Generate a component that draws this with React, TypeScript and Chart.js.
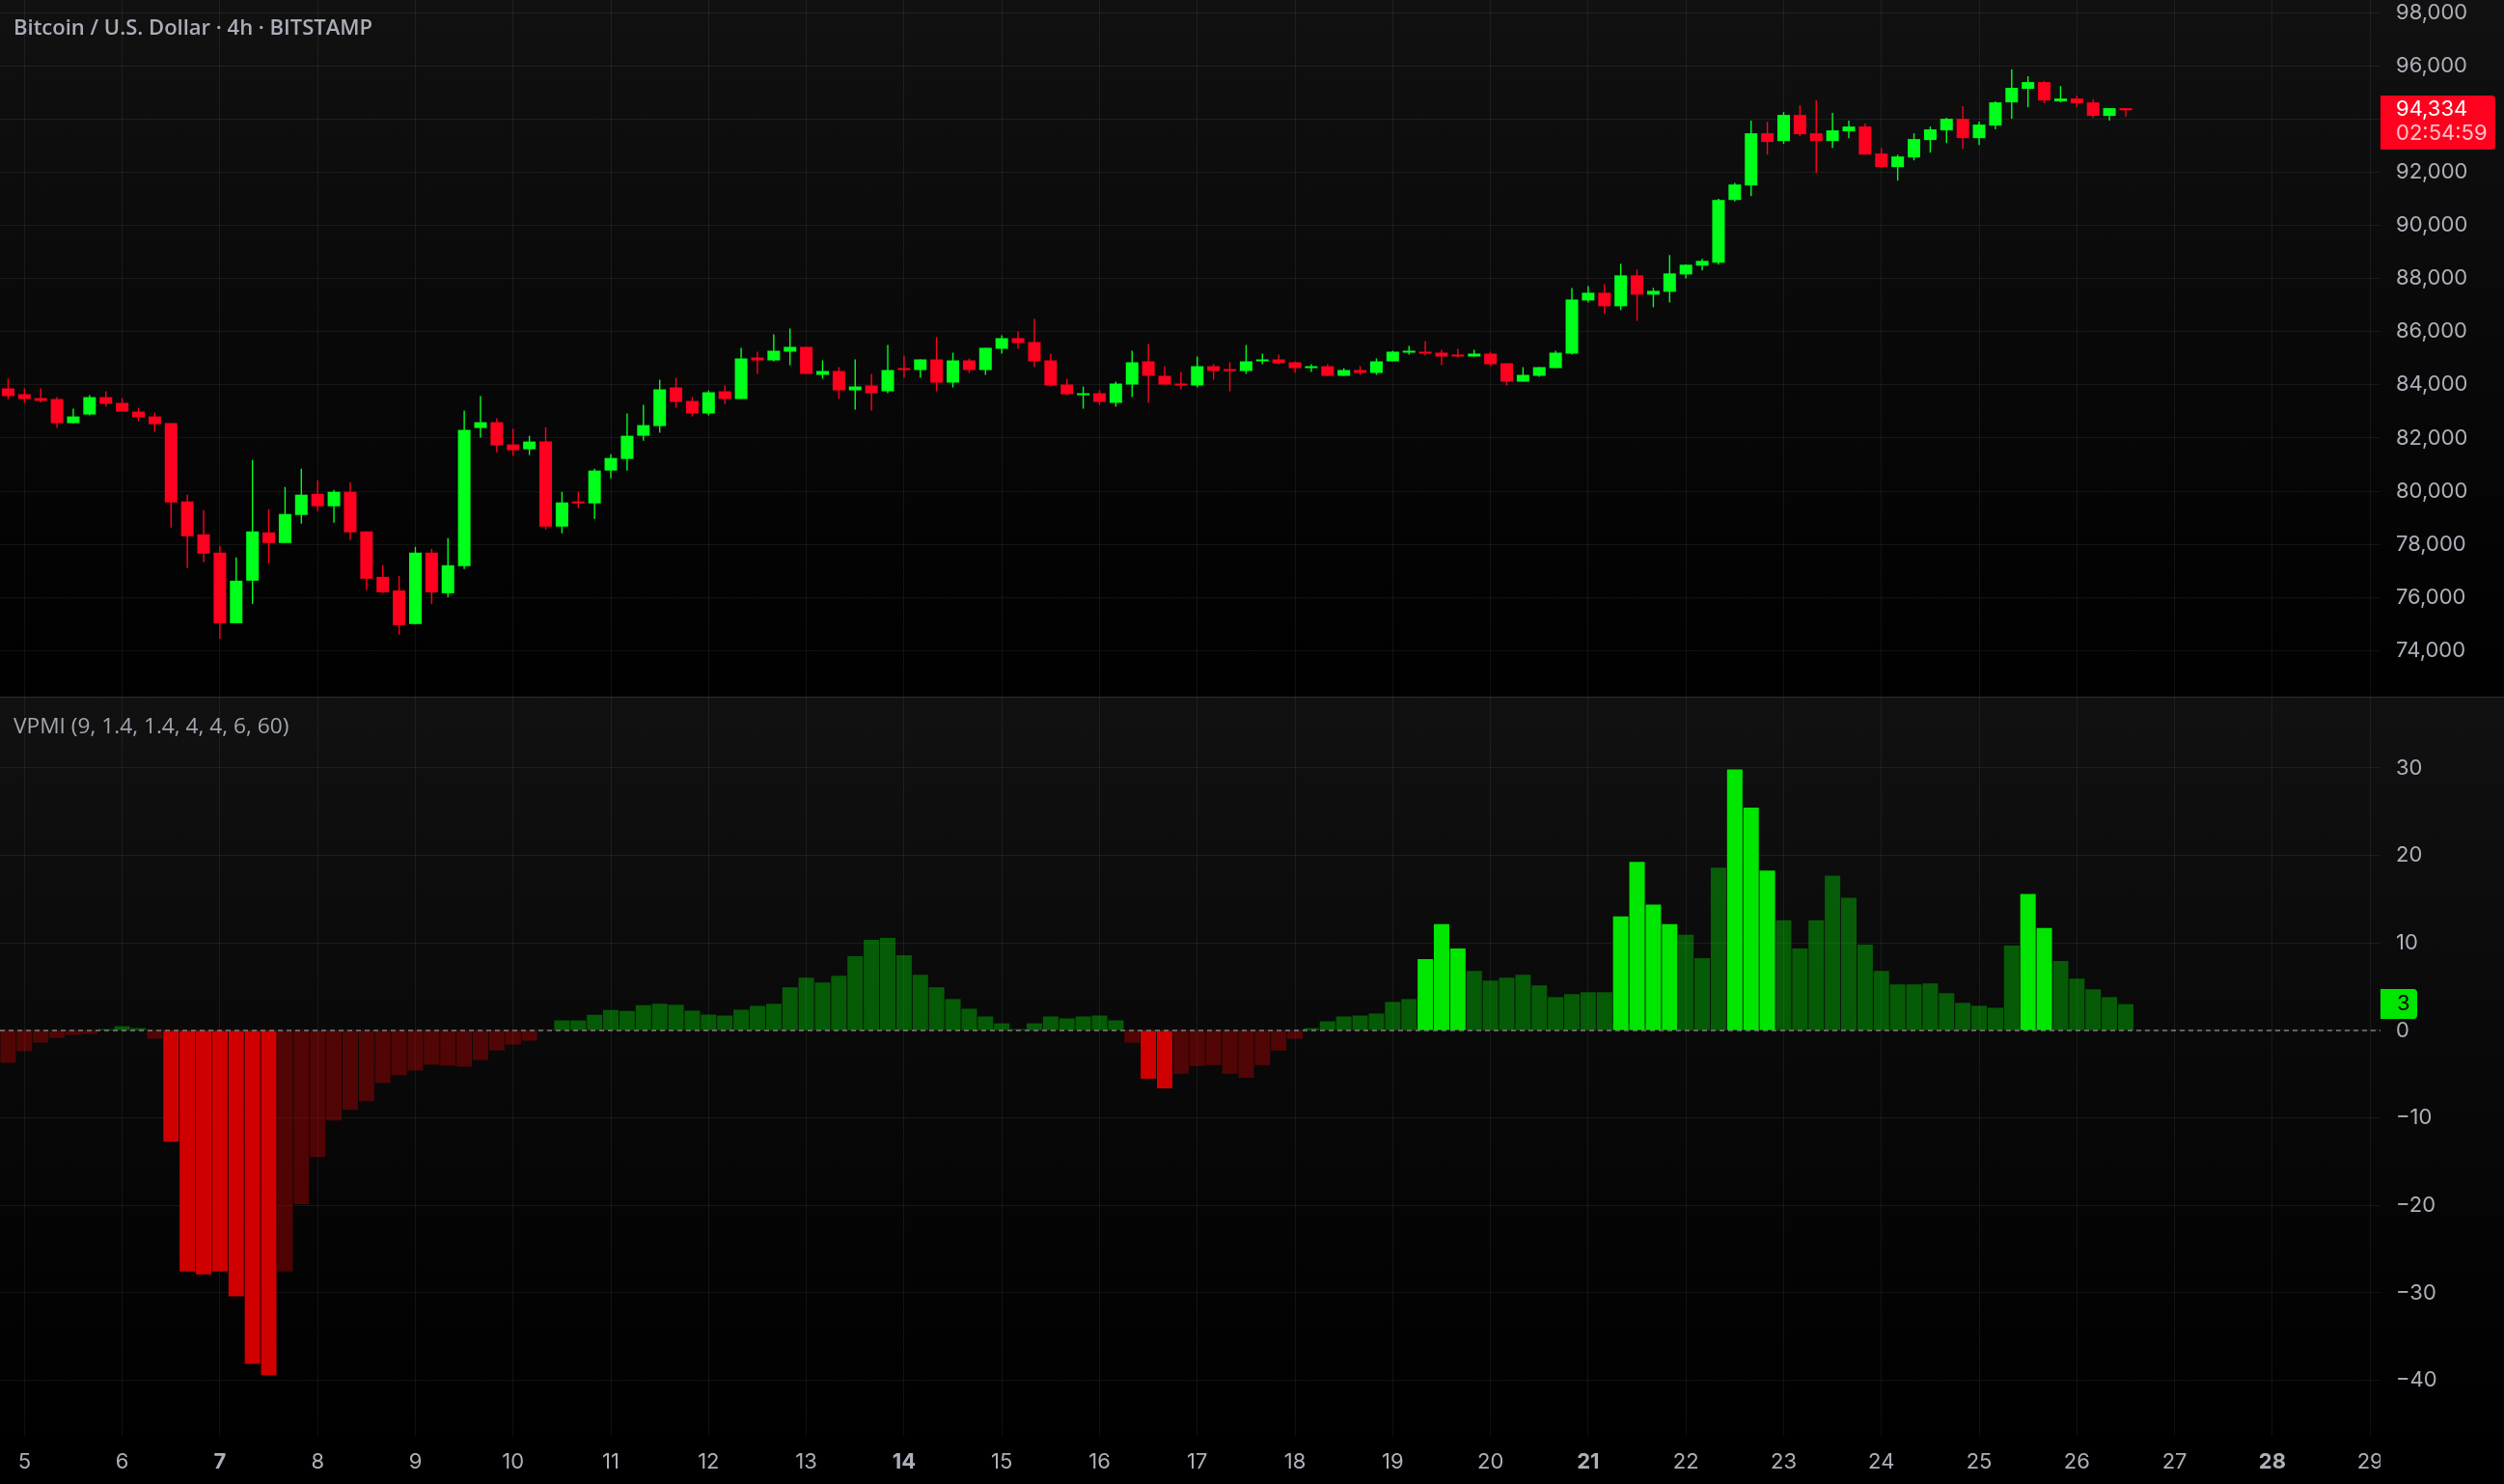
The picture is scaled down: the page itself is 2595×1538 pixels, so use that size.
import React, { useEffect, useRef } from "react";
import Chart from "chart.js/auto";

const opens = [83867,83649,83503,83467,82558,82885,83539,83321,82994,82812,82558,79613,78376,77686,75031,76631,78449,78049,79104,79903,79431,79976,78485,76776,76267,74995,77686,76158,77176,82376,82594,81758,81576,81867,78667,79576,79540,80776,81212,82085,82449,83903,83394,82922,83758,83467,85030,84921,85249,85430,84376,84521,83794,83976,83758,84594,84558,84958,84085,84921,84558,85358,85758,85612,84921,84012,83612,83685,83322,84012,84885,84340,84049,83976,84703,84558,84521,84885,84958,84849,84630,84703,84340,84558,84449,84885,85212,85249,85212,85103,85067,85176,84812,84121,84340,84630,85176,87176,87467,86958,88121,87394,87503,88157,88485,88594,90958,91504,93467,93176,94158,93467,93176,93540,93722,92704,92195,92558,93213,93576,94013,93285,93758,94631,95140,95394,94667,94776,94631,94122,94413];
const highs = [84230,83867,83867,83539,83103,83612,83758,83503,83139,82958,82558,79867,79285,77940,77504,81176,79322,80158,80849,80412,80049,80340,78485,77213,76813,77904,77831,78231,83030,83576,82739,82340,82085,82412,79976,79976,80849,81394,82921,83249,84194,84267,83540,83794,83976,85394,85249,85903,86121,85430,84921,84667,84958,84412,85503,85103,84958,85794,85212,84994,85394,85867,86012,86485,85176,84231,83940,83794,84121,85285,85539,84703,84485,85067,84776,84849,85503,85176,85140,84885,84776,84776,84630,84703,84994,85285,85467,85649,85321,85358,85321,85249,84812,84667,84667,85285,87648,87721,87794,88557,88339,87648,88885,88521,88739,91000,91600,93940,93904,94267,94522,94703,94231,93940,93831,92922,92667,93467,93722,94049,94485,93904,94667,95867,95613,95431,95249,94885,94740,94413,94413];
const lows = [83467,83321,83346,82376,82558,82849,83176,82994,82630,82230,78631,77104,77322,74449,75031,75758,77285,78049,78776,79249,78813,78158,76267,76158,74595,74995,75758,76013,77067,82012,81467,81322,81358,78558,78413,79358,78958,80485,80776,81900,82200,83140,82813,82849,83285,83467,84412,84885,84740,84412,84231,83467,83067,83031,83685,84267,84267,83758,83903,84449,84376,85176,85358,84667,83940,83612,83103,83249,83176,83540,83322,84012,83831,83903,84194,83758,84412,84776,84776,84449,84485,84340,84340,84376,84376,84885,85140,85103,84740,85030,85067,84703,83976,84121,84303,84630,85140,87103,86667,86812,86412,86921,87103,88012,88303,88521,90900,91104,92667,93067,93358,91977,92922,93285,92667,92158,91686,92449,92740,93104,92886,93031,93613,94013,94449,94594,94631,94449,94049,93940,94085];
const closes = [83576,83467,83394,82558,82812,83539,83285,82994,82776,82521,79576,78304,77649,75031,76631,78485,78049,79140,79867,79431,79976,78449,76704,76195,74959,77686,76195,77213,82303,82594,81721,81540,81867,78667,79576,79540,80776,81249,82085,82485,83831,83358,82922,83722,83467,84994,84921,85285,85430,84412,84521,83794,83940,83685,84558,84558,84958,84085,84921,84558,85394,85758,85576,84885,83976,83649,83685,83358,84049,84849,84340,84012,83976,84703,84521,84521,84885,84958,84812,84630,84667,84340,84558,84449,84885,85249,85249,85176,85067,85067,85176,84776,84121,84376,84667,85212,87212,87467,86958,88121,87394,87539,88194,88521,88666,90959,91540,93467,93140,94158,93431,93176,93576,93722,92667,92195,92595,93249,93613,94013,93285,93794,94631,95176,95394,94704,94776,94594,94122,94413,94334];

const vpmiValues = [-3.7,-2.38,-1.39,-0.84,-0.51,-0.4,0.15,0.48,0.26,-0.95,-12.71,-27.55,-27.88,-27.55,-30.4,-38.1,-39.4,-27.55,-19.85,-14.47,-10.3,-9.08,-8.1,-6,-5.13,-4.58,-3.92,-4.03,-4.14,-3.37,-2.27,-1.61,-1.17,0.05,1.14,1.14,1.79,2.34,2.23,2.89,3.05,2.93,2.26,1.81,1.7,2.37,2.81,3.04,4.93,6.04,5.48,6.26,8.48,10.37,10.59,8.59,6.37,4.93,3.59,2.48,1.59,0.81,0.15,0.81,1.59,1.37,1.59,1.7,1.15,-1.41,-5.52,-6.63,-4.96,-4.07,-3.96,-4.96,-5.41,-3.96,-2.3,-0.96,0.26,1.04,1.59,1.7,1.93,3.26,3.59,8.15,12.15,9.37,6.81,5.7,6.04,6.37,5.15,3.81,4.15,4.37,4.37,13.04,19.26,14.37,12.15,10.93,8.26,18.59,29.81,25.48,18.26,12.59,9.37,12.59,17.7,15.15,9.81,6.81,5.26,5.26,5.37,4.26,3.15,2.81,2.59,9.7,15.59,11.7,7.93,5.93,4.7,3.81,3];
const vpmiStrongBars = [10,11,12,13,14,15,16,70,71,87,88,89,99,100,101,102,106,107,108,124,125];

const dayLabels = [5,6,7,8,9,10,11,12,13,14,15,16,17,18,19,20,21,22,23,24,25,26,27,28,29];
const boldDays = [7,14,21,28];
const priceTicks = [74000,76000,78000,80000,82000,84000,86000,88000,90000,92000,94000,96000,98000];
const vpmiTicks = [-40,-30,-20,-10,0,10,20,30];

const titleText = "Bitcoin / U.S. Dollar · 4h · BITSTAMP";
const indicatorText = "VPMI (9, 1.4, 1.4, 4, 4, 6, 60)";
const lastPriceLabel = "94,334";
const countdownLabel = "02:54:59";
const lastVpmiLabel = "3";

const GREEN = "#00ff1a";
const RED = "#ff001e";
const V_GREEN = "#00e600";
const V_RED = "#d00000";
const V_GREEN_DIM = "rgba(0,230,0,0.37)";
const V_RED_DIM = "rgba(209,0,0,0.37)";
const GRID = "rgba(255,255,255,0.065)";
const TEXT = "#adb0b9";
const FONT = "Inter";
const X_MIN = -0.5;
const X_MAX = 145.64;

const indexForDay = (d: number) => 1 + (d - 5) * 6;
const dayForIndex = (i: number) => 5 + (i - 1) / 6;

const paneBg = (fromY: number, toY: number) => ({
  id: "paneBg",
  beforeDraw(chart: any) {
    const { ctx, width, height } = chart;
    const g = ctx.createLinearGradient(0, fromY, 0, toY);
    g.addColorStop(0, "#111111");
    g.addColorStop(1, "#000000");
    ctx.save();
    ctx.fillStyle = g;
    ctx.fillRect(0, 0, width, height);
    ctx.restore();
  },
});

const zeroPadding = (scale: any) => {
  scale.paddingTop = 0;
  scale.paddingBottom = 0;
  scale.paddingLeft = 0;
  scale.paddingRight = 0;
};

const xScale = (showLabels: boolean, axisHeight: number) => ({
  type: "linear",
  min: X_MIN,
  max: X_MAX,
  offset: false,
  border: { display: false },
  grid: { color: GRID, lineWidth: 1, drawTicks: false, offset: false },
  afterBuildTicks(scale: any) {
    scale.ticks = dayLabels.map((d) => ({ value: indexForDay(d) }));
  },
  afterFit(scale: any) {
    scale.height = axisHeight;
    zeroPadding(scale);
  },
  ticks: {
    display: showLabels,
    autoSkip: false,
    maxRotation: 0,
    minRotation: 0,
    padding: 14,
    color: TEXT,
    callback: (v: number) => String(Math.round(dayForIndex(v))),
    font: (ctx: any) => ({
      family: FONT,
      size: 22,
      weight: ctx.tick && boldDays.includes(Math.round(dayForIndex(ctx.tick.value))) ? "700" : "400",
    }),
  },
});

const yScale = (min: number, max: number, values: number[], fmt: (v: number) => string) => ({
  type: "linear",
  position: "right",
  min,
  max,
  border: { display: false },
  grid: { color: GRID, lineWidth: 1, drawTicks: false },
  afterBuildTicks(scale: any) {
    scale.ticks = values.map((v) => ({ value: v }));
  },
  afterFit(scale: any) {
    scale.width = 128;
    zeroPadding(scale);
  },
  ticks: {
    autoSkip: false,
    padding: 16,
    crossAlign: "near",
    color: TEXT,
    font: { family: FONT, size: 22 },
    callback: fmt,
  },
});

const baseOptions = {
  responsive: false,
  maintainAspectRatio: false,
  devicePixelRatio: 1,
  animation: false,
  events: [],
  layout: { padding: 0 },
};

export default function App() {
  const topRef = useRef<HTMLCanvasElement>(null);
  const bottomRef = useRef<HTMLCanvasElement>(null);

  useEffect(() => {
    const up = closes.map((c, i) => c >= opens[i]);
    const candleColors = up.map((u) => (u ? GREEN : RED));

    const top = new Chart(topRef.current as any, {
      type: "bar",
      data: {
        datasets: [
          {
            label: "Wick",
            data: highs.map((h, i) => ({ x: i, y: [lows[i], h] })),
            backgroundColor: candleColors,
            barThickness: 1.4,
            grouped: false,
            order: 2,
            borderWidth: 0,
            inflateAmount: 0,
          },
          {
            label: "Body",
            data: opens.map((o, i) => ({ x: i, y: [o, closes[i]] })),
            backgroundColor: candleColors,
            barThickness: 13,
            grouped: false,
            order: 1,
            borderWidth: 0,
            inflateAmount: 0,
            minBarLength: 2,
          },
        ],
      } as any,
      options: {
        ...baseOptions,
        layout: { padding: { bottom: 1 } },
        scales: {
          x: xScale(false, 0),
          y: yScale(72267, 98483, priceTicks, (v: number) => v.toLocaleString("en-US")),
        },
        plugins: { legend: { display: false }, tooltip: { enabled: false } },
      } as any,
      plugins: [
        paneBg(0, 722),
        {
          id: "topOverlay",
          afterDraw(chart: any) {
            const { ctx, width } = chart;
            ctx.save();
            ctx.fillStyle = "#2a2e39";
            ctx.fillRect(0, 722, width, 1);
            ctx.textBaseline = "middle";
            ctx.textAlign = "left";
            ctx.fillStyle = "#abadb8";
            ctx.font = '600 22px "Open Sans"';
            ctx.fillText(titleText, 14, 30);
            ctx.fillStyle = RED;
            ctx.beginPath();
            ctx.roundRect(2467, 99, 119, 56, [0, 4, 4, 0]);
            ctx.fill();
            ctx.fillStyle = "#ffffff";
            ctx.font = `400 22px ${FONT}`;
            ctx.fillText(lastPriceLabel, 2483, 113.5);
            ctx.fillStyle = "rgba(255,255,255,0.75)";
            ctx.fillText(countdownLabel, 2483, 138.5);
            ctx.restore();
          },
        },
      ] as any,
    });

    const bottom = new Chart(bottomRef.current as any, {
      type: "bar",
      data: {
        datasets: [
          {
            type: "line",
            label: "Zero",
            data: [
              { x: X_MIN, y: 0 },
              { x: X_MAX, y: 0 },
            ],
            borderColor: "rgba(160,160,160,0.75)",
            borderWidth: 1.5,
            borderDash: [5, 4],
            pointRadius: 0,
            order: 1,
          },
          {
            label: "VPMI",
            data: vpmiValues.map((v, i) => ({ x: i, y: v })),
            backgroundColor: vpmiValues.map((v, i) => {
              const strong = vpmiStrongBars.includes(i);
              if (v >= 0) return strong ? V_GREEN : V_GREEN_DIM;
              return strong ? V_RED : V_RED_DIM;
            }),
            barThickness: 16,
            borderWidth: 0,
            inflateAmount: 0,
            order: 2,
          },
        ],
      } as any,
      options: {
        ...baseOptions,
        scales: {
          x: xScale(true, 50),
          y: yScale(-46.33, 38.04, vpmiTicks, (v: number) =>
            v < 0 ? `\u2212${Math.abs(v)}` : String(v)
          ),
        },
        plugins: { legend: { display: false }, tooltip: { enabled: false } },
      } as any,
      plugins: [
        paneBg(0, 765),
        {
          id: "bottomOverlay",
          afterDraw(chart: any) {
            const { ctx, width, height } = chart;
            ctx.save();
            ctx.fillStyle = "#000000";
            ctx.fillRect(2467, 766, width - 2467, height - 766);
            ctx.textBaseline = "middle";
            ctx.textAlign = "left";
            ctx.fillStyle = "#a3a6af";
            ctx.font = '400 22.7px "Open Sans"';
            ctx.fillText(indicatorText, 14, 31);
            ctx.fillStyle = V_GREEN;
            ctx.beginPath();
            ctx.roundRect(2467, 302, 38, 31, [0, 4, 4, 0]);
            ctx.fill();
            ctx.fillStyle = "#000000";
            ctx.font = `400 22px ${FONT}`;
            ctx.fillText(lastVpmiLabel, 2484, 317.5);
            ctx.restore();
          },
        },
      ] as any,
    });

    return () => {
      top.destroy();
      bottom.destroy();
    };
  }, []);

  return (
    <div style={{ position: "fixed", left: 0, top: 0, width: 2595, height: 1538, background: "#000", overflow: "hidden" }}>
      <canvas ref={topRef} width={2595} height={723} style={{ position: "absolute", left: 0, top: 0, width: 2595, height: 723 }} />
      <canvas ref={bottomRef} width={2595} height={815} style={{ position: "absolute", left: 0, top: 723, width: 2595, height: 815 }} />
    </div>
  );
}
